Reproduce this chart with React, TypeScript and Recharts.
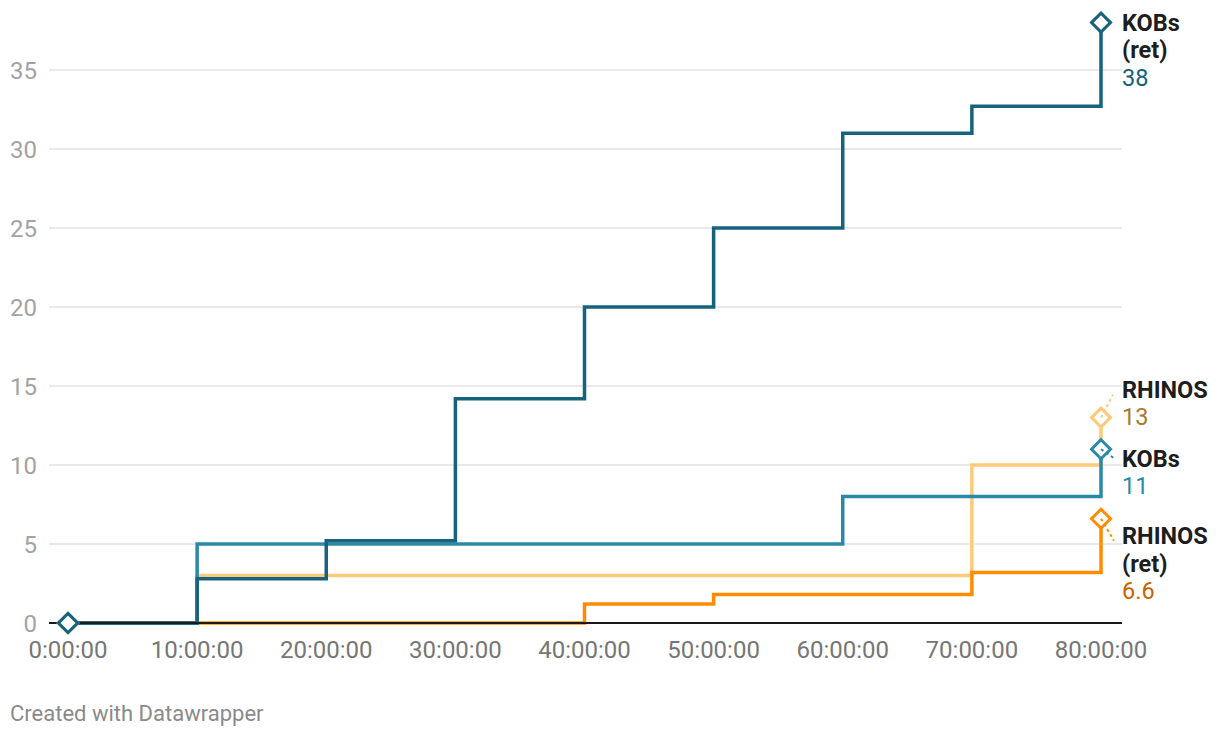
import { LineChart, Line, XAxis, YAxis, CartesianGrid } from "recharts";

// hours since start
const hours = [0, 10, 20, 30, 40, 50, 60, 70, 80];
const kobsRet = [0, 2.8, 5.2, 14.2, 20, 25, 31, 32.7, 38];
const kobs = [0, 5, 5, 5, 5, 5, 8, 8, 11];
const rhinos = [0, 3, 3, 3, 3, 3, 3, 10, 13];
const rhinosRet = [0, 0, 0, 0, 1.2, 1.8, 1.8, 3.2, 6.6];

const yTicks = [0, 5, 10, 15, 20, 25, 30, 35];
const xTicks = [0, 10, 20, 30, 40, 50, 60, 70, 80];

const data = hours.map((h, i) => ({
  h,
  kobsRet: kobsRet[i],
  kobs: kobs[i],
  rhinos: rhinos[i],
  rhinosRet: rhinosRet[i],
}));

const FONT = "Roboto, 'Noto Sans', sans-serif";

interface SeriesCfg {
  key: string;
  name: string[];
  color: string;
  valueColor: string;
  nameDy: number; // label placement relative to the end point
  connector?: [number, number];
}

// drawn bottom to top
const series: SeriesCfg[] = [
  { key: "rhinos", name: ["RHINOS"], color: "#fec978", valueColor: "#a87a2c", nameDy: -28, connector: [12, -23] },
  { key: "rhinosRet", name: ["RHINOS", "(ret)"], color: "#ff8c00", valueColor: "#c96300", nameDy: 17, connector: [13, 22] },
  { key: "kobs", name: ["KOBs"], color: "#2a89a8", valueColor: "#2a89a8", nameDy: 9, connector: [13, 9] },
  { key: "kobsRet", name: ["KOBs", "(ret)"], color: "#17627e", valueColor: "#17627e", nameDy: 0 },
];

const last = hours.length - 1;

const diamond = (color: string) => (p: any) => {
  const { cx, cy, index } = p;
  if (index !== 0 && index !== last) return <g key={`d-${index}`} />;
  const r = 9.5;
  return (
    <path
      key={`d-${index}`}
      d={`M${cx},${cy - r}L${cx + r},${cy}L${cx},${cy + r}L${cx - r},${cy}Z`}
      fill="#fff"
      stroke={color}
      strokeWidth={3}
    />
  );
};

const endLabel = (s: SeriesCfg) => (p: any) => {
  const { x, y, index, value } = p;
  if (index !== last) return <g key={`l-${index}`} />;
  const lh = 27.5;
  const tx = x + 21;
  const y0 = y + s.nameDy;
  return (
    <g key={`l-${index}`} fontFamily={FONT} fontSize={23.5}>
      {s.connector && (
        <line
          x1={x}
          y1={y}
          x2={x + s.connector[0]}
          y2={y + s.connector[1]}
          stroke={s.color}
          strokeWidth={2}
          strokeDasharray="3 3"
        />
      )}
      {s.name.map((n, i) => (
        <text key={n} x={tx} y={y0 + i * lh} dy="0.355em" fontWeight={700} fill="#1d1d1d">
          {n}
        </text>
      ))}
      <text x={tx} y={y0 + s.name.length * lh} dy="0.355em" fill={s.valueColor}>
        {value}
      </text>
    </g>
  );
};

export default function App() {
  return (
    <div style={{ position: "absolute", left: 0, top: 0, width: 1220, height: 740, background: "#fff" }}>
      <LineChart
        width={1220}
        height={740}
        data={data}
        margin={{ top: 22.6, right: 98, left: 0, bottom: 87 }}
      >
        <CartesianGrid
          vertical={false}
          horizontalValues={yTicks}
          stroke="#e2e2e2"
          strokeWidth={1.5}
        />
        <XAxis
          dataKey="h"
          type="number"
          domain={[0, 80]}
          ticks={xTicks}
          tickFormatter={(v) => `${v}:00:00`}
          padding={{ left: 19, right: 21 }}
          height={30}
          tickLine={false}
          tickSize={0}
          tickMargin={18}
          axisLine={{ stroke: "#1a1a1a", strokeWidth: 2 }}
          tick={{ fill: "#767676", fontSize: 24, fontFamily: FONT }}
          interval={0}
        />
        <YAxis
          type="number"
          domain={[0, 38]}
          ticks={yTicks}
          width={49}
          axisLine={false}
          tickLine={false}
          tickSize={0}
          tickMargin={12}
          tick={{ fill: "#a3a3a3", fontSize: 24, fontFamily: FONT }}
          interval={0}
        />
        {series.map((s) => (
          <Line
            key={s.key}
            type="stepAfter"
            dataKey={s.key}
            stroke={s.color}
            strokeWidth={3.5}
            dot={diamond(s.color)}
            activeDot={false}
            label={endLabel(s)}
            isAnimationActive={false}
          />
        ))}
      </LineChart>
      <div
        style={{
          position: "absolute",
          left: 10,
          top: 701,
          fontFamily: FONT,
          fontSize: 22,
          color: "#8a8a8a",
        }}
      >
        Created with Datawrapper
      </div>
    </div>
  );
}
